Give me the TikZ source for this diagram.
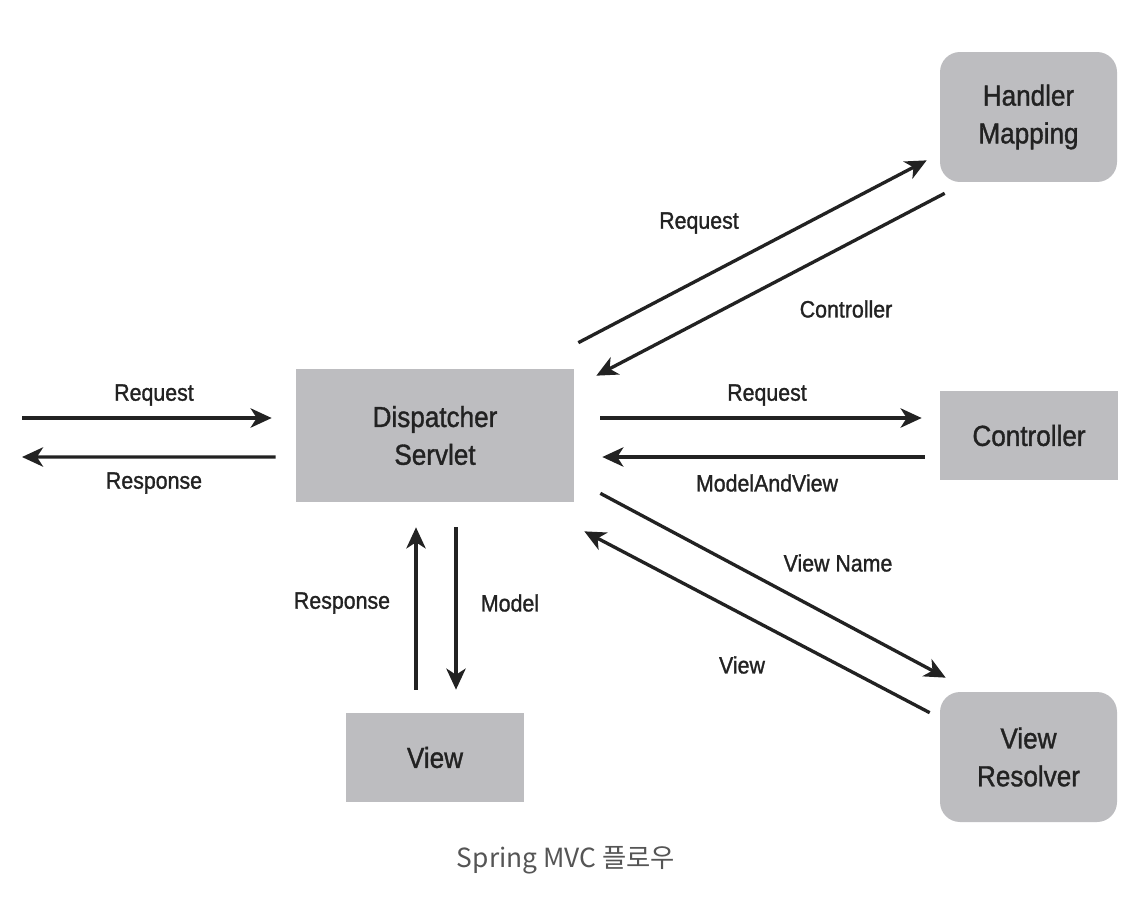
\documentclass[tikz,border=0pt]{standalone}
\usepackage{fontspec}
\setmainfont{Liberation Sans}[FakeStretch=0.9,FakeBold=1.2]
\newfontfamily\cjk{Noto Sans CJK KR}
\usetikzlibrary{arrows.meta,calc}
\definecolor{boxgray}{HTML}{BDBDC0}
\definecolor{inkc}{HTML}{222222}
\definecolor{capc}{HTML}{555555}
\begin{document}
\begin{tikzpicture}[x=0.02cm,y=-0.02cm,
  box/.style={fill=boxgray,draw=none,text=inkc,font=\fontsize{16.5}{21.5}\selectfont,align=center,inner sep=0pt},
  rbox/.style={box,rounded corners=0.4cm},
  arr/.style={draw=inkc,line width=1.9pt,-{Stealth[length=12pt,width=11pt,inset=3.5pt]}},
  lbl/.style={text=inkc,font=\fontsize{13.5}{16}\selectfont,inner sep=0pt}]
\useasboundingbox (0,0) rectangle (1148,896);
\fill[white] (0,0) rectangle (1148,896);
% nodes
\node[box,minimum width=5.56cm,minimum height=2.66cm] (ds) at (435,435.5) {Dispatcher\\Servlet};
\node[rbox,minimum width=3.54cm,minimum height=2.6cm] (hm) at (1028.5,117) {Handler\\Mapping};
\node[box,minimum width=3.56cm,minimum height=1.78cm] (ctrl) at (1029,435.5) {Controller};
\node[rbox,minimum width=3.54cm,minimum height=2.6cm] (vr) at (1028.5,757) {View\\Resolver};
\node[box,minimum width=3.56cm,minimum height=1.78cm] (view) at (435,757.5) {View};
\coordinate (cin) at (22,418);
\coordinate (cout) at (22,457);
% client
\draw[arr] (cin) -- ($(ds.west)+(-24,-17.5)$);
\draw[arr] ($(ds.west)+(-20,21.5)$) -- (cout);
% controller
\draw[arr] ($(ds.east)+(26,-17.5)$) -- ($(ctrl.west)+(-18,-17.5)$);
\draw[arr] ($(ctrl.west)+(-15,21.5)$) -- ($(ds.east)+(28,21.5)$);
% handler mapping
\draw[arr] ($(ds.north east)+(4,-26)$) -- ($(hm.south west)+(-13,-22)$);
\draw[arr] ($(hm.south west)+(5,11)$) -- ($(ds.north east)+(22,7)$);
% view resolver
\draw[arr] ($(ds.south east)+(26,-9)$) -- ($(vr.north west)+(6,-14)$);
\draw[arr] ($(vr.north west)+(-10,21)$) -- ($(ds.south east)+(10,29)$);
% view
\draw[arr] ($(view.north)+(-19,-23)$) -- ($(ds.south)+(-19,25)$);
\draw[arr] ($(ds.south)+(21,25)$) -- ($(view.north)+(21,-23)$);
% labels
\node[lbl] (l1) at (154,395) {Request};
\node[lbl] (l2) at (154,483) {Response};
\node[lbl] (l3) at (767,395) {Request};
\node[lbl] (l4) at (767,483) {ModelAndView};
\node[lbl] (l5) at (699,223) {Request};
\node[lbl] (l6) at (846,309) {Controller};
\node[lbl] (l7) at (838,563) {View Name};
\node[lbl] (l8) at (742,665) {View};
\node[lbl] (l9) at (342,603) {Response};
\node[lbl] (l10) at (510,603) {Model};
\node[text=capc,font=\cjk\fontsize{15}{18}\selectfont,inner sep=0pt] (cap) at (566,860) {Spring MVC 플로우};
\end{tikzpicture}
\end{document}
